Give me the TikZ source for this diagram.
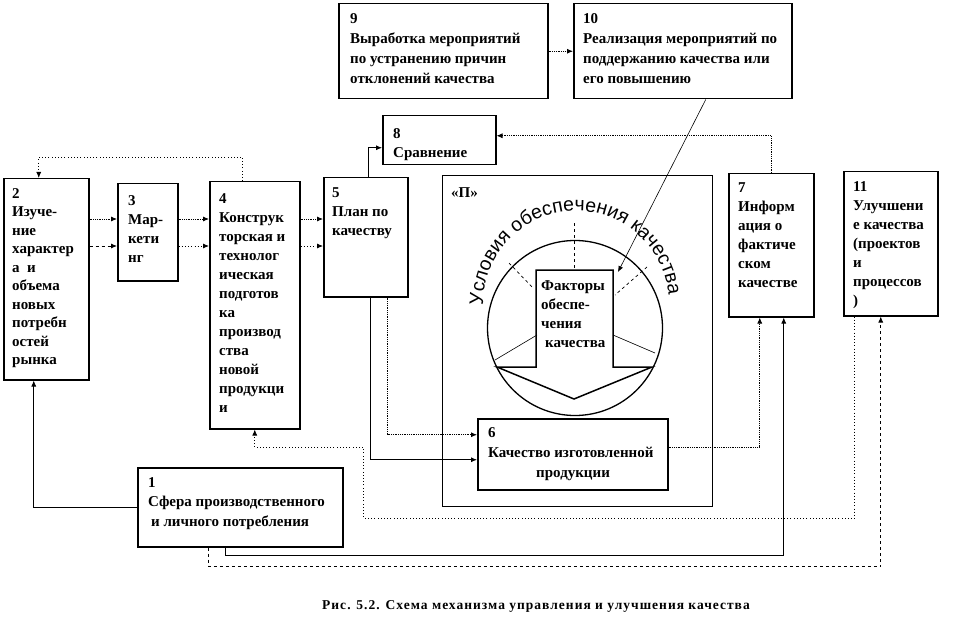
\documentclass[tikz,border=0pt]{standalone}
\usepackage{fontspec}
\setmainfont{Liberation Serif}
\newfontfamily\arcfont{Liberation Sans}
\newfontfamily\capfont[LetterSpace=7.5]{Liberation Serif}
\usetikzlibrary{arrows.meta,decorations.text}

\begin{document}
\begin{tikzpicture}[x=1pt, y=-1pt, >={Latex[length=6pt,width=5pt]},
	blk/.style={draw, line width=1.5pt, anchor=north west, inner sep=0pt},
	txt/.style={anchor=north west, align=left, inner sep=0pt, font=\bfseries\fontsize{15}{19}\selectfont},
	dl/.style={line width=0.8pt, densely dotted},
	sl/.style={line width=0.8pt, dash pattern=on 0.8pt off 2.4pt},
	ln/.style={line width=0.8pt},
	dsh/.style={line width=0.8pt, dashed}]
	\useasboundingbox (0,0) rectangle (979,639);
	% blocks
	\node[blk, minimum width=205pt, minimum height=79pt] (sfera) at (137,467) {};
	\node[blk, minimum width=85pt, minimum height=201pt] (izuch) at (3,178) {};
	\node[blk, minimum width=60pt, minimum height=97pt] (market) at (117,183) {};
	\node[blk, minimum width=90pt, minimum height=247pt] (konstr) at (209,181) {};
	\node[blk, minimum width=84pt, minimum height=119pt] (plan) at (323,177) {};
	\node[blk, minimum width=190pt, minimum height=71pt] (kach) at (477,418) {};
	\node[blk, minimum width=85pt, minimum height=143pt] (inform) at (728,173) {};
	\node[blk, minimum width=113pt, minimum height=49pt] (sravn) at (382,115) {};
	\node[blk, minimum width=209pt, minimum height=95pt] (vyrab) at (338,3) {};
	\node[blk, minimum width=218pt, minimum height=95pt] (realiz) at (573,3) {};
	\node[blk, minimum width=94pt, minimum height=144pt] (uluch) at (843,171) {};
	\node[blk, line width=1.2pt, minimum width=270pt, minimum height=331pt] (pole) at (442,175) {};

	\node[txt, font=\bfseries\fontsize{15}{19.5}\selectfont] (t1) at ([shift={(11,10)}]sfera.north west) {1\\Сфера производственного\\\hspace*{3pt}и личного потребления};
	\node[txt, font=\bfseries\fontsize{15}{18.5}\selectfont] (t2) at ([shift={(9,10)}]izuch.north west) {2\\Изуче-\\ние\\характер\\а\ \ и\\объема\\новых\\потребн\\остей\\рынка};
	\node[txt] (t3) at ([shift={(11,12)}]market.north west) {3\\Мар-\\кети\\нг};
	\node[txt] (t4) at ([shift={(10,12)}]konstr.north west) {4\\Конструк\\торская и\\технолог\\ическая\\подготов\\ка\\производ\\ства\\новой\\продукци\\и};
	\node[txt] (t5) at ([shift={(9,10)}]plan.north west) {5\\План по\\качеству};
	\node[txt, font=\bfseries\fontsize{15}{20}\selectfont] (t6) at ([shift={(11,9)}]kach.north west) {6\\Качество изготовленной\\\hspace*{48pt}продукции};
	\node[txt] (t7) at ([shift={(10,9)}]inform.north west) {7\\Информ\\ация о\\фактиче\\ском\\качестве};
	\node[txt] (t8) at ([shift={(11,13)}]sravn.north west) {8\\Сравнение};
	\node[txt, font=\bfseries\fontsize{15}{20}\selectfont] (t9) at ([shift={(12,10)}]vyrab.north west) {9\\Выработка мероприятий\\по устранению причин\\отклонений качества};
	\node[txt, font=\bfseries\fontsize{15}{20}\selectfont] (t10) at ([shift={(10,10)}]realiz.north west) {10\\Реализация мероприятий по\\поддержанию качества или\\его повышению};
	\node[txt] (t11) at ([shift={(10,10)}]uluch.north west) {11\\Улучшени\\е качества\\(проектов\\и\\процессов\\)};
	\node[txt] (tP) at ([shift={(9,12)}]pole.north west) {«П»};

	% circle with factors
	\node[circle, draw, line width=1.3pt, minimum size=175pt, inner sep=0pt] (krug) at (575,328) {};
	\draw[line width=1.5pt] (497,367) -- (536,367) -- (536,270) -- (613,270) -- (613,367) -- (652,367) -- (574,399) -- cycle;
	\node[txt] (tF) at (541,280) {Факторы\\обеспе-\\чения\\\hspace*{4pt}качества};
	\foreach \xa/\ya/\xb/\yb in {574/223/574/268, 509/263/533/288, 647/267/615/295}
		\draw[line width=0.7pt, dashed] (\xa,\ya) -- (\xb,\yb);
	\draw[line width=0.6pt] (495,360) -- (537,335);
	\draw[line width=0.6pt] (613,335) -- (655,353);
	\coordinate (dug) at (576,304);
	\path[decorate, decoration={text along path, text align=center,
		text={|\arcfont\fontsize{19.5}{19.5}\selectfont|Условия обеспечения качества}}]
		(dug) ++(175:93) arc[start angle=175, end angle=359, radius=93];
	\coordinate (fk) at (618,272);

	% connectors
	\coordinate (r1) at (0,219);
	\coordinate (r2) at (0,246);
	\foreach \a/\b in {izuch/market, market/konstr, konstr/plan}
		\draw[dl,->] (\a.east |- r1) -- (\b.west |- r1);
	\foreach \a/\b/\s in {izuch/market/dsh, market/konstr/sl, konstr/plan/sl}
		\draw[\s,->] (\a.east |- r2) -- (\b.west |- r2);
	\draw[sl,->] ([xshift=-12pt]konstr.north) -- ++(0,-24) -| ([xshift=-7.5pt]izuch.north);
	\draw[ln,->] ([xshift=3pt]plan.north) |- ([yshift=-7.5pt]sravn.west);
	\draw[dl,->] (inform.north) |- ([yshift=4.5pt]sravn.east);
	\draw[dl,->] (vyrab.east) -- (realiz.west);
	\draw[line width=0.6pt,->] ([xshift=23pt]realiz.south) -- (fk);
	\draw[ln,->] ([xshift=5pt]plan.south) |- ([yshift=-5.5pt]kach.west);
	\draw[dl,->] ([xshift=22pt]plan.south) |- ([yshift=19.5pt]kach.west);
	\draw[dl,->] ([yshift=6.5pt]kach.east) -| ([xshift=-11.5pt]inform.south);
	\draw[ln,->] (sfera.west) -| ([xshift=-12.5pt]izuch.south);
	\draw[ln,->] ([xshift=-14.5pt]sfera.south) -- ++(0,8) -| ([xshift=12.5pt]inform.south);
	\draw[dsh,->] ([xshift=-31.5pt]sfera.south) -- ++(0,19) -| ([xshift=-10pt]uluch.south);
	\draw[sl,->] ([xshift=-36pt]uluch.south) -- ++(0,202) -- ++(-491,0) -- ++(0,-71) -| (konstr.south);

	\node[font=\capfont\bfseries\fontsize{13.5}{15}\selectfont] (podpis) at (536,606) {Рис. 5.2. Схема механизма управления и улучшения качества};
\end{tikzpicture}
\end{document}
